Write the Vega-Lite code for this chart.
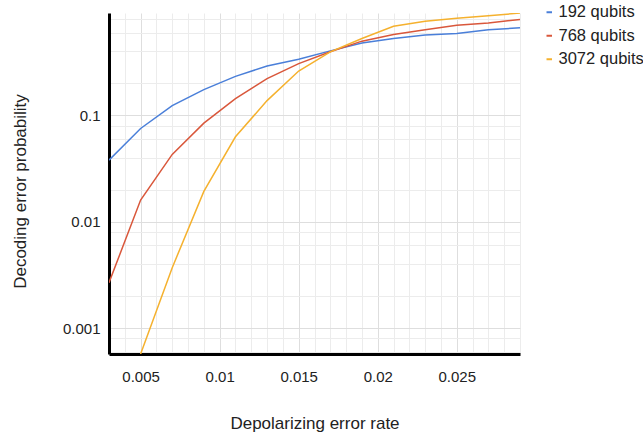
{
  "$schema": "https://vega.github.io/schema/vega-lite/v6.json",
  "width": 411,
  "height": 341,
  "autosize": "none",
  "padding": {"left": 109, "top": 13, "right": 123, "bottom": 80},
  "background": "white",
  "config": {
    "view": {"stroke": null},
    "font": "Liberation Sans",
    "axis": {"labelFont": "Liberation Sans", "titleFont": "Liberation Sans", "labelColor": "#222", "titleColor": "#222", "titleFontWeight": "normal"},
    "legend": {"labelFont": "Liberation Sans", "labelColor": "#222"}
  },
  "data": {
    "values": [
      {"rate": 0.003, "p": 0.038, "series": "192 qubits"},
      {"rate": 0.005, "p": 0.0754, "series": "192 qubits"},
      {"rate": 0.007, "p": 0.124, "series": "192 qubits"},
      {"rate": 0.009, "p": 0.175, "series": "192 qubits"},
      {"rate": 0.011, "p": 0.233, "series": "192 qubits"},
      {"rate": 0.013, "p": 0.292, "series": "192 qubits"},
      {"rate": 0.015, "p": 0.338, "series": "192 qubits"},
      {"rate": 0.017, "p": 0.405, "series": "192 qubits"},
      {"rate": 0.019, "p": 0.48, "series": "192 qubits"},
      {"rate": 0.021, "p": 0.53, "series": "192 qubits"},
      {"rate": 0.023, "p": 0.57, "series": "192 qubits"},
      {"rate": 0.025, "p": 0.59, "series": "192 qubits"},
      {"rate": 0.027, "p": 0.64, "series": "192 qubits"},
      {"rate": 0.029, "p": 0.667, "series": "192 qubits"},
      {"rate": 0.003, "p": 0.00267, "series": "768 qubits"},
      {"rate": 0.005, "p": 0.016, "series": "768 qubits"},
      {"rate": 0.007, "p": 0.043, "series": "768 qubits"},
      {"rate": 0.009, "p": 0.0846, "series": "768 qubits"},
      {"rate": 0.011, "p": 0.144, "series": "768 qubits"},
      {"rate": 0.013, "p": 0.222, "series": "768 qubits"},
      {"rate": 0.015, "p": 0.307, "series": "768 qubits"},
      {"rate": 0.017, "p": 0.398, "series": "768 qubits"},
      {"rate": 0.019, "p": 0.5, "series": "768 qubits"},
      {"rate": 0.021, "p": 0.577, "series": "768 qubits"},
      {"rate": 0.023, "p": 0.64, "series": "768 qubits"},
      {"rate": 0.025, "p": 0.707, "series": "768 qubits"},
      {"rate": 0.027, "p": 0.74, "series": "768 qubits"},
      {"rate": 0.029, "p": 0.8, "series": "768 qubits"},
      {"rate": 0.005, "p": 0.00057, "series": "3072 qubits"},
      {"rate": 0.007, "p": 0.0037, "series": "3072 qubits"},
      {"rate": 0.009, "p": 0.0193, "series": "3072 qubits"},
      {"rate": 0.011, "p": 0.063, "series": "3072 qubits"},
      {"rate": 0.013, "p": 0.138, "series": "3072 qubits"},
      {"rate": 0.015, "p": 0.262, "series": "3072 qubits"},
      {"rate": 0.017, "p": 0.396, "series": "3072 qubits"},
      {"rate": 0.019, "p": 0.53, "series": "3072 qubits"},
      {"rate": 0.021, "p": 0.69, "series": "3072 qubits"},
      {"rate": 0.023, "p": 0.77, "series": "3072 qubits"},
      {"rate": 0.025, "p": 0.82, "series": "3072 qubits"},
      {"rate": 0.027, "p": 0.865, "series": "3072 qubits"},
      {"rate": 0.029, "p": 0.92, "series": "3072 qubits"}
    ]
  },
  "mark": {"type": "line", "strokeWidth": 1.5, "clip": true},
  "encoding": {
    "x": {
      "field": "rate",
      "type": "quantitative",
      "scale": {"domain": [0.003, 0.029], "nice": false, "zero": false},
      "axis": {
        "title": "Depolarizing error rate",
        "values": [0.003, 0.004, 0.005, 0.006, 0.007, 0.008, 0.009, 0.01, 0.011, 0.012, 0.013, 0.014, 0.015, 0.016, 0.017, 0.018, 0.019, 0.02, 0.021, 0.022, 0.023, 0.024, 0.025, 0.026, 0.027, 0.028, 0.029],
        "labelExpr": "(datum.value == 0.005 || datum.value == 0.01 || datum.value == 0.015 || datum.value == 0.02 || datum.value == 0.025) ? format(datum.value, '~g') : ''",
        "labelFontSize": 15,
        "labelPadding": 15,
        "labelFlush": false,
        "labelOverlap": false,
        "ticks": false,
        "tickSize": 0,
        "domainColor": "#000",
        "domainWidth": 3,
        "grid": true,
        "gridColor": {"condition": {"test": "datum.value == 0.005 || datum.value == 0.01 || datum.value == 0.015 || datum.value == 0.02 || datum.value == 0.025", "value": "#dedede"}, "value": "#ececec"},
        "gridWidth": 1,
        "titleFontSize": 17,
        "titleY": 69,
        "titleBaseline": "middle"
      }
    },
    "y": {
      "field": "p",
      "type": "quantitative",
      "scale": {"type": "log", "domain": [0.00057, 0.92], "nice": false},
      "axis": {
        "title": "Decoding error probability",
        "values": [0.0006, 0.0008, 0.001, 0.002, 0.004, 0.006, 0.008, 0.01, 0.02, 0.04, 0.06, 0.08, 0.1, 0.2, 0.4, 0.6, 0.8],
        "labelExpr": "(datum.value == 0.001 || datum.value == 0.01 || datum.value == 0.1) ? format(datum.value, '~g') : ''",
        "labelFontSize": 15,
        "labelPadding": 9,
        "labelOverlap": false,
        "labelFlush": false,
        "ticks": false,
        "tickSize": 0,
        "domainColor": "#000",
        "domainWidth": 3,
        "grid": true,
        "gridColor": {"condition": {"test": "datum.value == 0.001 || datum.value == 0.01 || datum.value == 0.1", "value": "#dedede"}, "value": "#ececec"},
        "gridWidth": 1,
        "titleFontSize": 17,
        "titleX": -89,
        "titleY": 178,
        "titleBaseline": "middle",
        "titleAngle": -90
      }
    },
    "color": {
      "field": "series",
      "type": "nominal",
      "sort": ["192 qubits", "768 qubits", "3072 qubits"],
      "scale": {"domain": ["192 qubits", "768 qubits", "3072 qubits"], "range": ["#4a7fd9", "#d9573b", "#f5b12e"]},
      "legend": {
        "title": null,
        "orient": "none",
        "legendX": 432,
        "legendY": -9,
        "symbolType": "stroke",
        "symbolSize": 30,
        "symbolStrokeWidth": 2,
        "labelFontSize": 16.5,
        "labelOffset": 1,
        "rowPadding": 6.5,
        "labelLimit": 200
      }
    }
  }
}
